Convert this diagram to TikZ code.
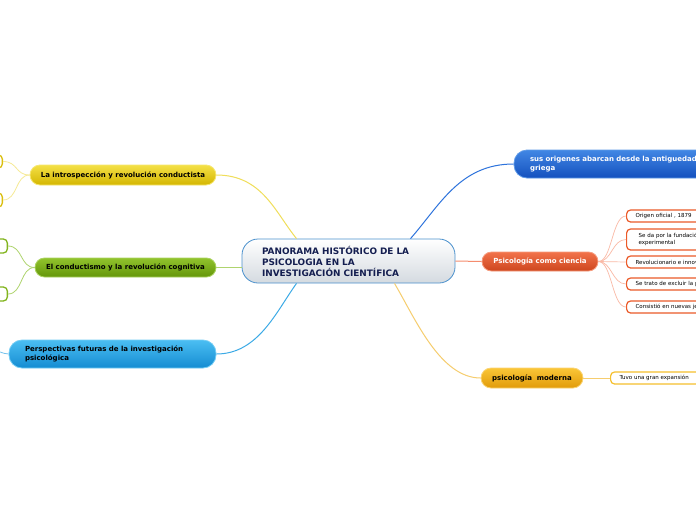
\documentclass[tikz,border=0pt]{standalone}
\usepackage{fontspec}
\setmainfont{DejaVu Sans}
\definecolor{yelT}{RGB}{244,224,70}\definecolor{yelB}{RGB}{212,182,0}\definecolor{yelD}{RGB}{246,230,110}\definecolor{yelL}{RGB}{240,222,90}\definecolor{yelLL}{RGB}{246,234,150}
\definecolor{grnT}{RGB}{145,195,45}\definecolor{grnB}{RGB}{100,150,10}\definecolor{grnD}{RGB}{170,210,95}\definecolor{grnL}{RGB}{175,212,110}\definecolor{grnS}{RGB}{130,180,30}
\definecolor{lbT}{RGB}{75,190,242}\definecolor{lbB}{RGB}{20,140,210}\definecolor{lbD}{RGB}{115,205,245}\definecolor{lbL}{RGB}{60,170,230}
\definecolor{dbT}{RGB}{65,135,228}\definecolor{dbB}{RGB}{20,80,190}\definecolor{dbD}{RGB}{95,155,232}\definecolor{dbL}{RGB}{45,115,220}
\definecolor{orT}{RGB}{242,115,75}\definecolor{orB}{RGB}{205,70,30}\definecolor{orD}{RGB}{246,155,125}\definecolor{orL}{RGB}{245,140,110}\definecolor{orLL}{RGB}{250,185,165}\definecolor{orS}{RGB}{235,90,40}
\definecolor{mdT}{RGB}{250,198,55}\definecolor{mdB}{RGB}{225,155,10}\definecolor{mdD}{RGB}{250,212,115}\definecolor{mdL}{RGB}{246,205,110}\definecolor{mdS}{RGB}{245,192,45}
\definecolor{ctrB}{RGB}{212,218,224}\definecolor{ctrD}{RGB}{75,145,205}\definecolor{navy}{RGB}{20,30,80}
\tikzset{
  pill/.style={shape=rectangle, rounded corners=#1, line width=0.8pt, inner sep=0pt, font=\fontsize{7}{8.5}\selectfont\bfseries},
  pill/.default=10pt,
  leaf/.style={shape=rectangle, rounded corners=4pt, fill=white, line width=1.2pt, inner xsep=9pt, inner ysep=0pt, anchor=west, align=left, text width=140pt, font=\fontsize{5.5}{6.5}\selectfont},
  stub/.style={shape=rectangle, rounded corners=4pt, fill=white, line width=1.3pt, inner sep=0pt},
  conn/.style={line width=1pt}
}
\begin{document}
\begin{tikzpicture}[x=1pt,y=-1pt]
\useasboundingbox (0,0) rectangle (696,520);
\clip (0,0) rectangle (696,520);
\fill[white] (0,0) rectangle (696,520);
% central
\node[pill=16pt, draw=ctrD, top color=white, bottom color=ctrB, minimum width=213pt, minimum height=44pt, text width=173pt, align=left, text=navy, font=\fontsize{8.9}{11}\selectfont\bfseries] (ctr) at (348.5,261) {PANORAMA HISTÓRICO DE LA\\PSICOLOGIA EN LA\\INVESTIGACIÓN CIENTÍFICA};
% left main
\node[pill, draw=yelD, top color=yelT, bottom color=yelB, minimum width=186pt, minimum height=20pt] (yel) at (123,175) {La introspección y revolución conductista};
\node[pill=9.5pt, draw=grnD, top color=grnT, bottom color=grnB, minimum width=181pt, minimum height=19pt] (grn) at (125.5,267.5) {El conductismo y la revolución cognitiva};
\node[pill=13pt, draw=lbD, top color=lbT, bottom color=lbB, minimum width=207pt, minimum height=28pt, text width=175pt, align=left] (lb) at (112.5,354) {Perspectivas futuras de la investigación\\psicológica};
% right main
\node[pill=13pt, draw=dbD, top color=dbT, bottom color=dbB, minimum width=216pt, minimum height=28pt, text width=184pt, align=left, text=white] (db) at (622,164) {sus origenes abarcan desde la antiguedad\\griega};
\node[pill=9.5pt, draw=orD, top color=orT, bottom color=orB, minimum width=116pt, minimum height=19pt, text=white] (org) at (540,261.5) {Psicología como ciencia};
\node[pill, draw=mdD, top color=mdT, bottom color=mdB, minimum width=102pt, minimum height=20pt] (mod) at (532,378) {psicología\ \ moderna};
% left stubs
\node[stub, draw=yelB!80!yelT, minimum width=23pt, minimum height=13pt, anchor=east] (y1) at (3,161.5) {};
\node[stub, draw=yelB!80!yelT, minimum width=23pt, minimum height=14pt, anchor=east] (y2) at (3,200) {};
\node[stub, draw=grnS, minimum width=28pt, minimum height=14pt, anchor=east] (g1) at (8,246) {};
\node[stub, draw=grnS, minimum width=28pt, minimum height=14pt, anchor=east] (g2) at (8,294) {};
\coordinate (lbend) at (-12,347);
% orange leaves
\node[leaf, draw=orS, minimum height=12pt] (o1) at (626,216) {Origen oficial , 1879};
\node[leaf, draw=orS, minimum height=21pt, inner xsep=12pt] (o2) at (626,239.5) {Se da por la fundació\\experimental};
\node[leaf, draw=orS, minimum height=12pt] (o3) at (626,262) {Revolucionario e innov};
\node[leaf, draw=orS, minimum height=12pt] (o4) at (626,284) {Se trato de excluir la p};
\node[leaf, draw=orS, minimum height=12pt] (o5) at (626,307) {Consistió en nuevas je};
\node[leaf, draw=mdS, minimum height=12pt] (m1) at (610,378) {Tuvo una gran expansión};
% connectors from center
\draw[conn, draw=yelL] ([xshift=-52pt]ctr.north) .. controls (275,212) and (262,175) .. (yel.east);
\draw[conn, draw=grnL] (grn.east) -- (ctr.west |- grn.east);
\draw[conn, draw=lbL] ([xshift=-52pt]ctr.south) .. controls (276,312) and (258,354) .. (lb.east);
\draw[conn, draw=dbL] ([xshift=62pt]ctr.north) .. controls (440,205) and (460,164) .. (db.west);
\draw[conn, draw=orL] (ctr.east) -- (org.west);
\draw[conn, draw=mdL] ([xshift=46pt]ctr.south) .. controls (415,318) and (440,378) .. (mod.west);
% sub connectors
\draw[conn, draw=yelLL, line width=0.8pt] (yel.west) .. controls (15,175) and (18,161.5) .. (y1.east);
\draw[conn, draw=yelLL, line width=0.8pt] (yel.west) .. controls (15,175) and (18,200) .. (y2.east);
\draw[conn, draw=grnL, line width=0.8pt] (grn.west) .. controls (20,267.5) and (23,246) .. (g1.east);
\draw[conn, draw=grnL, line width=0.8pt] (grn.west) .. controls (20,267.5) and (23,294) .. (g2.east);
\draw[conn, draw=lbL!70, line width=0.8pt] (lb.west) .. controls (3,354) and (-4,350) .. (lbend);
\foreach \o in {o1,o2,o3,o4,o5}{
  \draw[conn, draw=orLL, line width=0.7pt] (org.east) .. controls (612,261.5) and (612,0 |- \o.west) .. (\o.west);
}
\draw[conn, draw=mdL, line width=0.8pt] (mod.east) -- (m1.west);
\end{tikzpicture}
\end{document}
